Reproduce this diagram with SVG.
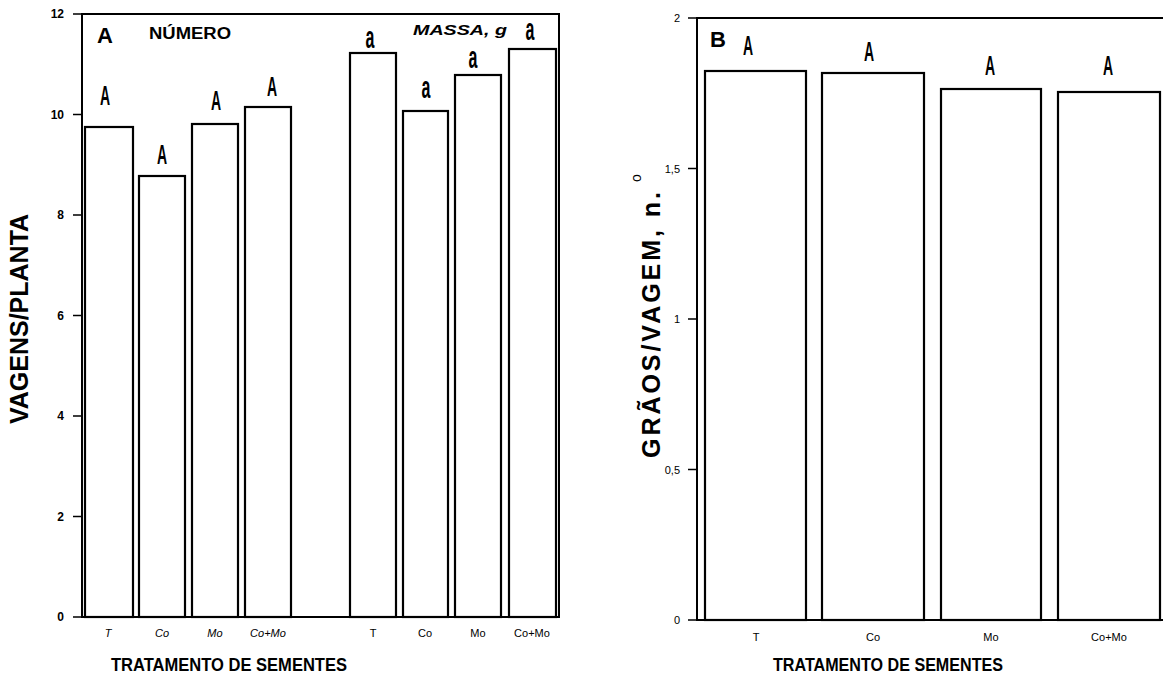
<svg xmlns="http://www.w3.org/2000/svg" width="1163" height="700" viewBox="0 0 1163 700">
<style>
text{font-family:"Liberation Sans",Arial,sans-serif;fill:#000}
.ax{fill:none;stroke:#000;stroke-width:2}
.tk{stroke:#000;stroke-width:1.3}
.bar{fill:#fff;stroke:#000;stroke-width:2.2}
.tl{font-size:12px;font-weight:bold;text-anchor:end}
.tlb{font-size:11px;text-anchor:end}
.xl{font-size:11px;text-anchor:middle}
.it{font-style:italic}
.sig{font-size:28px;font-weight:bold;text-anchor:middle}
.sga{font-size:32px;font-weight:bold;text-anchor:middle}
.ttl{font-size:19px;font-weight:bold;text-anchor:middle}
.yt{font-size:25px;font-weight:bold;text-anchor:middle}
.pl{font-size:22px;font-weight:bold}
</style>
<rect width="1163" height="700" fill="#fff"/>
<g id="panel-a">
  <g id="axes-a">
    <rect class="ax" x="82" y="14" width="477" height="603"/>
    <path class="tk" d="M73,14H82M73,114.5H82M73,215H82M73,315.5H82M73,416H82M73,516.5H82M73,617H82"/>
    <text class="tl" x="64" y="18">12</text>
    <text class="tl" x="64" y="118.5">10</text>
    <text class="tl" x="64" y="219">8</text>
    <text class="tl" x="64" y="319.5">6</text>
    <text class="tl" x="64" y="420">4</text>
    <text class="tl" x="64" y="520.5">2</text>
    <text class="tl" x="64" y="621">0</text>
  </g>
  <text id="label-a" class="pl" x="97" y="43">A</text>
  <text id="numero" x="149" y="39" font-size="16" font-weight="bold" textLength="82" lengthAdjust="spacingAndGlyphs">NÚMERO</text>
  <text id="massa" x="413" y="35" font-size="15" font-weight="bold" font-style="italic" textLength="94" lengthAdjust="spacingAndGlyphs">MASSA, g</text>
  <g id="bar-a-T"><rect class="bar" x="85" y="127" width="48" height="490"/><text class="sig" transform="translate(105,105) scale(0.5,1)">A</text></g>
  <g id="bar-a-Co"><rect class="bar" x="139" y="176" width="46" height="441"/><text class="sig" transform="translate(162,164) scale(0.5,1)">A</text></g>
  <g id="bar-a-Mo"><rect class="bar" x="192" y="124" width="46" height="493"/><text class="sig" transform="translate(216,110) scale(0.5,1)">A</text></g>
  <g id="bar-a-CoMo"><rect class="bar" x="245" y="107" width="46" height="510"/><text class="sig" transform="translate(272,96) scale(0.5,1)">A</text></g>
  <g id="bar-m-T"><rect class="bar" x="350" y="53" width="46" height="564"/><text class="sga" transform="translate(370,48) scale(0.5,1)">a</text></g>
  <g id="bar-m-Co"><rect class="bar" x="403" y="111" width="45" height="506"/><text class="sga" transform="translate(426,98) scale(0.5,1)">a</text></g>
  <g id="bar-m-Mo"><rect class="bar" x="455" y="75" width="46" height="542"/><text class="sga" transform="translate(473,68) scale(0.5,1)">a</text></g>
  <g id="bar-m-CoMo"><rect class="bar" x="509" y="49" width="47" height="568"/><text class="sga" transform="translate(530,40) scale(0.5,1)">a</text></g>
  <g id="xlabels-a">
    <text class="xl it" x="108" y="637">T</text>
    <text class="xl it" x="162" y="637">Co</text>
    <text class="xl it" x="215" y="637">Mo</text>
    <text class="xl it" x="268" y="637">Co+Mo</text>
    <text class="xl" x="373" y="637">T</text>
    <text class="xl" x="425" y="637">Co</text>
    <text class="xl" x="478" y="637">Mo</text>
    <text class="xl" x="532" y="637">Co+Mo</text>
  </g>
  <text id="ytitle-a" class="yt" transform="translate(28,319) rotate(-90)">VAGENS/PLANTA</text>
  <text id="xtitle-a" class="ttl" x="229" y="671" textLength="236" lengthAdjust="spacingAndGlyphs">TRATAMENTO DE SEMENTES</text>
</g>
<g id="panel-b">
  <g id="axes-b">
    <path class="ax" d="M1163,18H697V620H1163"/>
    <path class="tk" d="M688,18H697M688,168.5H697M688,319H697M688,469.5H697M688,620H697"/>
    <text class="tlb" x="680" y="22">2</text>
    <text class="tlb" x="680" y="172.5">1,5</text>
    <text class="tlb" x="680" y="323">1</text>
    <text class="tlb" x="680" y="473.5">0,5</text>
    <text class="tlb" x="680" y="624">0</text>
  </g>
  <text id="label-b" class="pl" x="710" y="47">B</text>
  <g id="bar-b-T"><rect class="bar" x="705" y="71" width="101" height="549"/><text class="sig" transform="translate(748,55) scale(0.5,1)">A</text></g>
  <g id="bar-b-Co"><rect class="bar" x="822" y="73" width="102" height="547"/><text class="sig" transform="translate(869,61) scale(0.5,1)">A</text></g>
  <g id="bar-b-Mo"><rect class="bar" x="941" y="89" width="100" height="531"/><text class="sig" transform="translate(990,75) scale(0.5,1)">A</text></g>
  <g id="bar-b-CoMo"><rect class="bar" x="1058" y="92" width="102" height="528"/><text class="sig" transform="translate(1108,75) scale(0.5,1)">A</text></g>
  <g id="xlabels-b">
    <text class="xl" x="756" y="641">T</text>
    <text class="xl" x="873" y="641">Co</text>
    <text class="xl" x="991" y="641">Mo</text>
    <text class="xl" x="1109" y="641">Co+Mo</text>
  </g>
  <g id="ytitle-b" font-weight="bold">
    <text transform="translate(660,458) rotate(-90)" font-size="25" textLength="266" lengthAdjust="spacing">GRÃOS/VAGEM, n.</text>
    <text transform="translate(660,458) rotate(-90)" x="276" y="-19" font-size="14" font-weight="normal">o</text>
  </g>
  <text id="xtitle-b" class="ttl" x="888" y="671" textLength="230" lengthAdjust="spacingAndGlyphs">TRATAMENTO DE SEMENTES</text>
</g>
<g id="connectors"/>
</svg>
